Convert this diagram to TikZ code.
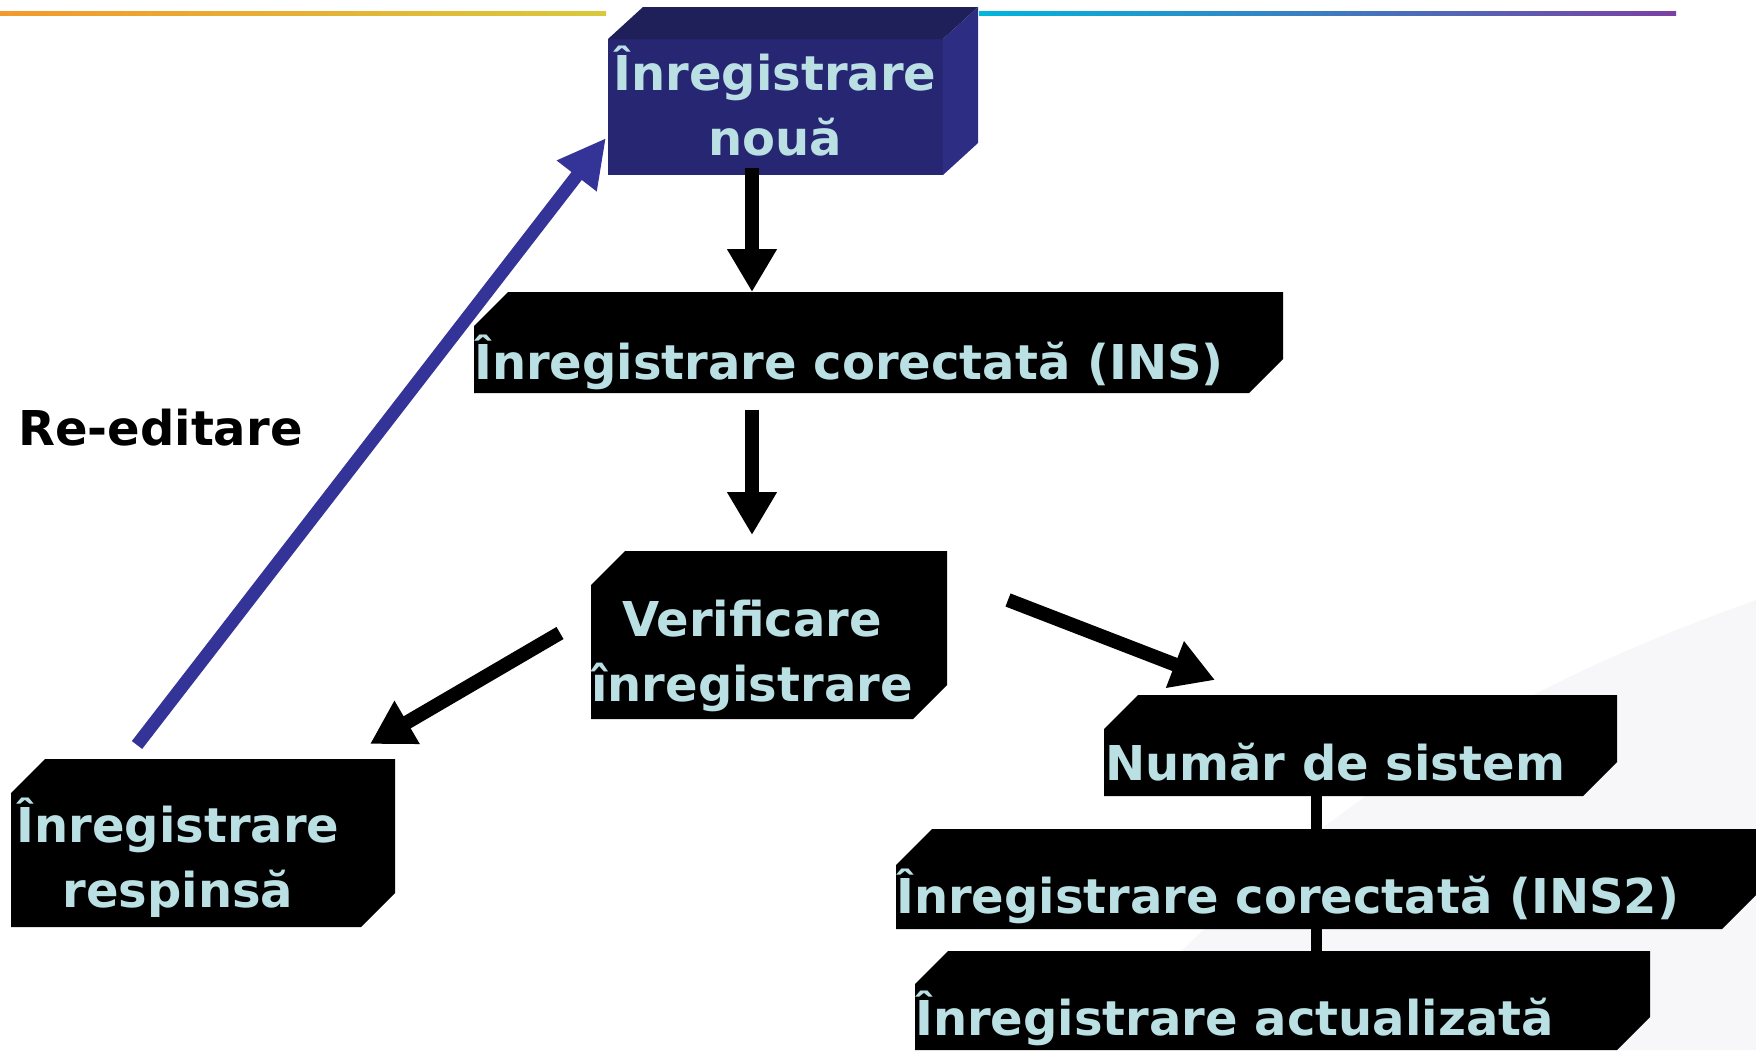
\documentclass[tikz,border=0pt]{standalone}
\usepackage{fontspec}
\setmainfont{DejaVu Sans}
\usetikzlibrary{arrows.meta,calc}
\definecolor{txt}{RGB}{186,224,228}
\definecolor{navyfront}{RGB}{39,38,114}
\definecolor{navytop}{RGB}{31,31,90}
\definecolor{navyside}{RGB}{46,45,132}
\definecolor{loopblue}{RGB}{52,52,152}
\definecolor{faintbg}{RGB}{247,247,250}
\definecolor{lorange}{RGB}{243,154,44}
\definecolor{lyellow}{RGB}{247,197,30}
\definecolor{lolive}{RGB}{217,201,59}
\definecolor{rcyan}{RGB}{0,182,220}
\definecolor{rblue}{RGB}{0,120,184}
\definecolor{rpurple}{RGB}{123,64,163}
\newcommand{\snipfill}[2]{%
  \fill[black] ($(#1.north west)+(0,#2)$) -- ($(#1.north west)+(#2,0)$) -- (#1.north east)
    -- ($(#1.south east)+(0,-#2)$) -- ($(#1.south east)+(-#2,0)$) -- (#1.south west) -- cycle;}
\begin{document}
\begin{tikzpicture}[x=1pt,y=-1pt,
  boxnode/.style={rectangle,inner sep=0pt,outer sep=0pt},
  boxtext/.style={inner sep=0pt,text=txt,font=\fontsize{48}{65}\selectfont\bfseries},
  flowarrow/.style={draw=black,line width=14pt,-{Triangle[width=47pt,length=43pt]}},
  looparrow/.style={draw=loopblue,line width=13pt,-{Triangle[width=47pt,length=48pt]}},
  joinline/.style={draw=black,line width=11pt}]
\useasboundingbox (0,0) rectangle (1756,1050);
\clip (0,0) rectangle (1756,1050);
% faint background swoosh
\fill[faintbg] (1756,600) .. controls (1560,670) and (1320,780) .. (1090,1050) -- (1756,1050) -- cycle;
% top gradient lines
\shade[left color=lorange,middle color=lyellow,right color=lolive] (0,11) rectangle (606,15);
\shade[left color=rcyan,middle color=rblue,right color=rpurple] (979,11) rectangle (1676,15);
% box frames
\node[boxnode,minimum width=335pt,minimum height=136pt] (top) at (775.5,107) {};
\node[boxnode,minimum width=809pt,minimum height=101pt] (ins) at (878.5,342.5) {};
\node[boxnode,minimum width=356pt,minimum height=168pt] (ver) at (769,635) {};
\node[boxnode,minimum width=384pt,minimum height=168pt] (resp) at (203,843) {};
\node[boxnode,minimum width=513pt,minimum height=101pt] (num) at (1360.5,745.5) {};
\node[boxnode,minimum width=862pt,minimum height=100pt] (ins2) at (1327,879) {};
\node[boxnode,minimum width=735pt,minimum height=99pt] (act) at (1282.5,1000.5) {};
% 3D top box
\fill[navyfront] (top.north west) rectangle (top.south east);
\fill[navytop] (top.north west) -- ++(35,-32) -- ++(335,0) -- (top.north east) -- cycle;
\fill[navyside] (top.north east) -- ++(35,-32) -- ++(0,136) -- (top.south east) -- cycle;
% snipped black boxes
\snipfill{ins}{34}
\snipfill{ver}{34}
\snipfill{resp}{34}
\snipfill{num}{34}
\snipfill{ins2}{36}
\snipfill{act}{33}
% joining lines
\draw[joinline] ($(num.south)+(-44,0)$) -- ($(ins2.north)+(-10.5,0)$);
\draw[joinline] ($(ins2.south)+(-10.5,0)$) -- ($(act.north)+(34,0)$);
% texts
\node[boxtext,align=center] (ttop) at (775,101.5) {Înregistrare\\nouă};
\node[boxtext,anchor=base west] (tins) at (474,379) {Înregistrare corectată (INS)};
\node[boxtext,align=center] (tver) at (752,655.5) {Verificare\\înregistrare};
\node[boxtext,align=center] (tresp) at (178,858) {Înregistrare\\respinsă};
\node[boxtext,anchor=base west] (tnum) at (1105,780) {Număr de sistem};
\node[boxtext,anchor=base west] (tins2) at (896,913) {Înregistrare corectată (INS2)};
\node[boxtext,anchor=base west] (tact) at (915,1035) {Înregistrare actualizată};
\node[inner sep=0pt,anchor=base west,font=\fontsize{48}{58}\selectfont\bfseries] (reed) at (18,445) {Re-editare};
% arrows
\draw[flowarrow] ($(top.south)+(-23.5,-7)$) -- ($(ins.north)+(-126.5,0)$);
\draw[flowarrow] ($(ins.south)+(-126.5,17)$) -- ($(ver.north)+(-17,-16)$);
\draw[flowarrow] ($(ver.west)+(-31,-2)$) -- ($(resp.north east)+(-25,-15)$);
\draw[flowarrow] ($(ver.east)+(61,-35)$) -- ($(num.north west)+(111,-15)$);
\draw[looparrow] ($(resp.north west)+(126,-14)$) -- ($(top.west)+(-2,31)$);
\end{tikzpicture}
\end{document}
